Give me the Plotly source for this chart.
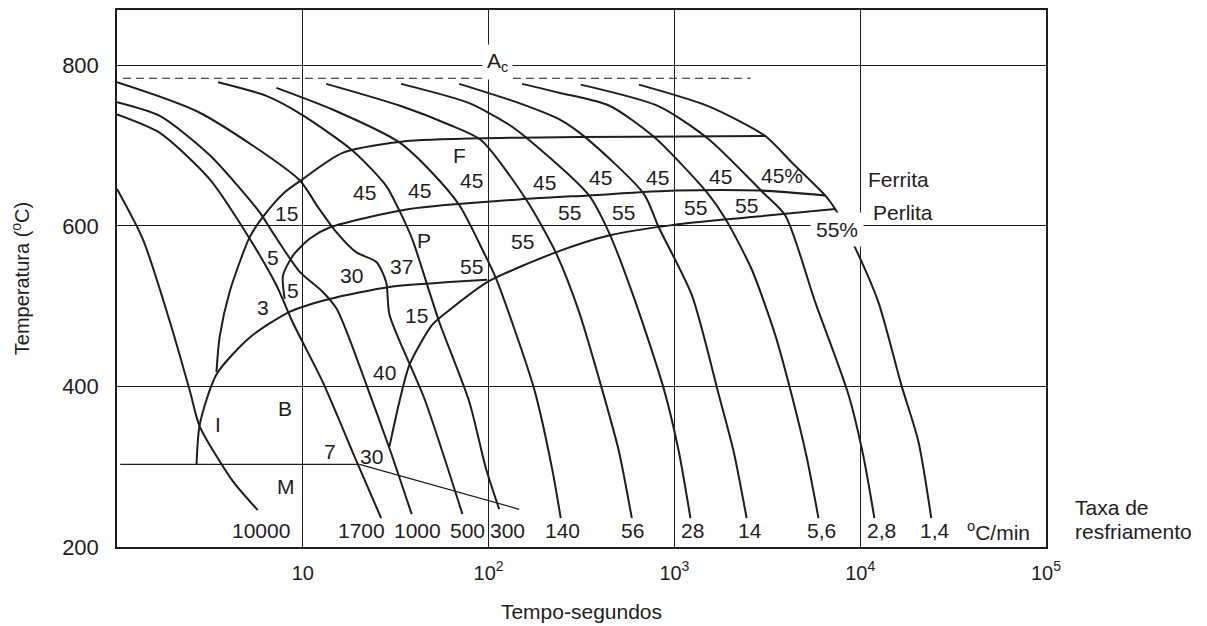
import math
import plotly.graph_objects as go

# ---------------- data (time in s, temperature in degC) ----------------
# cooling curves, labelled by cooling rate (degC/min)
c10000_t = [1.0, 1.38, 1.93, 2.47, 2.79, 4.20, 5.72]
c10000_T = [646, 583, 480, 394, 350, 282, 246]

c1700_t = [1.0, 1.70, 3.16, 5.18, 7.21, 8.82, 12.78, 19.45, 26.4]
c1700_T = [739, 716, 658, 584, 526, 480, 406, 307, 236]

c1000_t = [1.0, 1.70, 3.16, 5.86, 6.88, 9.61, 12.78, 15.19, 17.84, 22.0, 29.26, 38.55]
c1000_T = [754, 737, 688, 617, 592, 543, 518, 497, 459, 402, 323, 241]

c500_t = [1.0, 2.79, 9.61, 11.86, 15.19, 19.45, 24.9, 28.1, 29.3, 45.1, 72.3]
c500_T = [779, 741, 657, 626, 592, 567, 555, 530, 489, 385, 241]

c300_t = [3.50, 6.37, 9.81, 18.5, 28.1, 33.1, 38.9, 46.8, 54.3, 78.7, 96.7, 114]
c300_T = [779, 762, 739, 694, 650, 619, 583, 526, 480, 381, 298, 247]

c140_t = [7.21, 14.45, 33.1, 49.8, 69.5, 92.4, 109.9, 175.8, 219.5, 244.5]
c140_T = [772, 745, 704, 666, 626, 571, 534, 397, 298, 236]

c56_t = [13.37, 33.1, 61.4, 90.9, 159.2, 229.8, 306.7, 407.5, 502.9, 590]
c56_T = [777, 750, 726, 707, 633, 567, 493, 397, 319, 236]

c28_t = [33.8, 78.7, 129, 165.2, 347, 444, 605, 877, 1056, 1220]
c28_T = [777, 753, 726, 707, 638, 592, 511, 397, 319, 236]

c14_t = [69.5, 146, 239.4, 333.2, 684.8, 824.6, 1240, 1732, 2084, 2448]
c14_T = [777, 753, 733, 710, 640, 598, 514, 390, 319, 236]

c5_6_t = [151.5, 239.4, 444.4, 775.4, 1493, 1881, 2605, 3491, 4272, 5141, 5964]
c5_6_T = [777, 766, 750, 711, 642, 609, 546, 464, 390, 313, 236]

c2_8_t = [313.1, 824.6, 1530, 2985, 3952, 5726, 8644, 10404, 11922]
c2_8_T = [776, 749, 708, 642, 613, 505, 390, 313, 236]

c1_4_t = [643.9, 1530, 3085, 4287, 6479, 7333, 9389, 12526, 16644, 20544, 24126]
c1_4_T = [776, 749, 712, 679, 638, 621, 573, 505, 402, 332, 236]

# transformation boundaries
ferrite_start_t = [3.43, 3.57, 4.04, 5.18, 6.23, 7.99, 9.81, 16.36, 37.5, 146, 644, 3085]
ferrite_start_T = [418, 462, 518, 586, 614, 642, 657, 691, 706, 710, 711, 712]

pearlite_start_t = [7.99, 7.82, 8.85, 10.88, 13.93, 37.5, 146, 347, 1014, 2947, 6479]
pearlite_start_T = [509, 538, 563, 584, 598, 621, 633, 638, 644, 644, 638]

pearlite_end_t = [29.26, 33.1, 37.5, 49.8, 61.4, 98.3, 229.8, 444, 968, 2605, 7333]
pearlite_end_T = [325, 381, 427, 477, 495, 530, 567, 588, 601, 611, 621]

bainite_start_t = [2.68, 2.79, 3.43, 5.18, 8.49, 13.93, 29.26, 61.4, 98.3]
bainite_start_T = [303, 353, 415, 461, 493, 509, 524, 530, 533]

ms_t = [1.04, 20.2]
ms_T = [303, 303]
ms_slope_t = [20.2, 146]
ms_slope_T = [303, 247]

ac_t = [1.077, 2573]
ac_T = [784, 784]

# region / percentage labels
region_text = ["F", "45", "45", "45", "45", "45", "45", "45", "45%",
               "55", "55", "55", "55", "55", "55",
               "P", "37", "30", "15", "5", "5", "3", "15", "40",
               "B", "I", "7", "30", "M"]
region_t = [69.5, 21.5, 42.4, 80.7, 199, 401, 808, 1775, 3788,
            271, 535, 1298, 2448, 152, 80.4,
            45.1, 33.8, 18.2, 8.15, 6.91, 8.85, 6.11, 40.7, 27.5,
            7.99, 3.5, 13.93, 23.3, 8.15]
region_T = [688, 642, 644, 656, 654, 660, 660, 662, 663,
            617, 617, 623, 625, 580, 549,
            582, 549, 538, 615, 561, 520, 499, 489, 418,
            373, 352, 319, 313, 276]

# cooling-rate labels along the bottom
rate_text = ["10000", "1700", "1000", "500", "300", "140", "56", "28", "14",
             "5,6", "2,8", "1,4", "<sup>o</sup>C/min"]
rate_t = [5.98, 20.6, 41.5, 77.0, 126, 249, 593, 1245, 2563, 6212, 13050, 25260, 55260]
rate_T = 220

x_tickvals = [10, 100, 1000, 10000, 100000]
x_ticktext = ["10", "10<sup>2</sup>", "10<sup>3</sup>", "10<sup>4</sup>", "10<sup>5</sup>"]
y_tickvals = [200, 400, 600, 800]

# ---------------- figure ----------------
INK = "#1e1e1e"
FONT = "Liberation Sans, Arial, Helvetica, sans-serif"
LBL = 21
fig = go.Figure()

curves = [
    (c10000_t, c10000_T), (c1700_t, c1700_T), (c1000_t, c1000_T), (c500_t, c500_T),
    (c300_t, c300_T), (c140_t, c140_T), (c56_t, c56_T), (c28_t, c28_T),
    (c14_t, c14_T), (c5_6_t, c5_6_T), (c2_8_t, c2_8_T), (c1_4_t, c1_4_T),
    (ferrite_start_t, ferrite_start_T), (pearlite_start_t, pearlite_start_T),
    (pearlite_end_t, pearlite_end_T), (bainite_start_t, bainite_start_T),
]
for t, T in curves:
    fig.add_trace(go.Scatter(x=t, y=T, mode="lines", hoverinfo="skip",
                             line=dict(color=INK, width=2, shape="spline", smoothing=0.7)))

fig.add_trace(go.Scatter(x=ms_t, y=ms_T, mode="lines", hoverinfo="skip",
                         line=dict(color=INK, width=1.3)))
fig.add_trace(go.Scatter(x=ms_slope_t, y=ms_slope_T, mode="lines", hoverinfo="skip",
                         line=dict(color=INK, width=1.3)))
fig.add_trace(go.Scatter(x=ac_t, y=ac_T, mode="lines", hoverinfo="skip",
                         line=dict(color=INK, width=1.2, dash="8px,5px")))


def lx(t):
    # annotations on a log axis are positioned in log10 units
    return math.log10(t)


ann = []
for s, t, T in zip(region_text, region_t, region_T):
    ann.append(dict(x=lx(t), y=T, text=s, showarrow=False,
                    font=dict(size=LBL, color=INK, family=FONT)))
for s, t in zip(rate_text, rate_t):
    ann.append(dict(x=lx(t), y=rate_T, text=s, showarrow=False,
                    font=dict(size=LBL, color=INK, family=FONT)))

ann.append(dict(x=lx(7500), y=596, text="55%", showarrow=False, bgcolor="white", borderpad=5,
                font=dict(size=LBL, color=INK, family=FONT)))
ann.append(dict(x=lx(111), y=804, text="A<sub>c</sub>", showarrow=False, bgcolor="white", borderpad=4,
                font=dict(size=LBL, color=INK, family=FONT)))
ann.append(dict(x=lx(10796), y=658, text="Ferrita", showarrow=False, xanchor="left",
                font=dict(size=LBL, color=INK, family=FONT)))
ann.append(dict(x=lx(11485), y=617, text="Perlita", showarrow=False, xanchor="left",
                font=dict(size=LBL, color=INK, family=FONT)))
ann.append(dict(x=1.029, xref="paper", y=249, text="Taxa de", showarrow=False, xanchor="left",
                font=dict(size=LBL, color=INK, family=FONT)))
ann.append(dict(x=1.029, xref="paper", y=219, text="resfriamento", showarrow=False, xanchor="left",
                font=dict(size=LBL, color=INK, family=FONT)))

# the page body adds an 8px offset, so the figure is sized to compensate
fig.update_layout(
    width=1199, height=618,
    margin=dict(l=109, r=161, t=0, b=79),
    paper_bgcolor="white", plot_bgcolor="white",
    showlegend=False,
    font=dict(family=FONT, color=INK),
    annotations=ann,
    xaxis=dict(type="log", range=[0, 5], tickvals=x_tickvals, ticktext=x_ticktext,
               showgrid=True, gridcolor=INK, gridwidth=1, zeroline=False,
               showline=True, mirror=True, linecolor=INK, linewidth=1.5,
               ticks="", ticklabelstandoff=7, tickfont=dict(size=20, color=INK),
               title=dict(text="Tempo-segundos", font=dict(size=21, color=INK), standoff=22)),
    yaxis=dict(range=[200, 869], tickvals=y_tickvals,
               showgrid=True, gridcolor=INK, gridwidth=1, zeroline=False,
               showline=True, mirror=True, linecolor=INK, linewidth=1.5,
               ticks="", ticklabelstandoff=12, tickfont=dict(size=22, color=INK),
               title=dict(text="Temperatura (<sup>o</sup>C)", font=dict(size=20, color=INK), standoff=30)),
)

fig.write_html("out.html")
